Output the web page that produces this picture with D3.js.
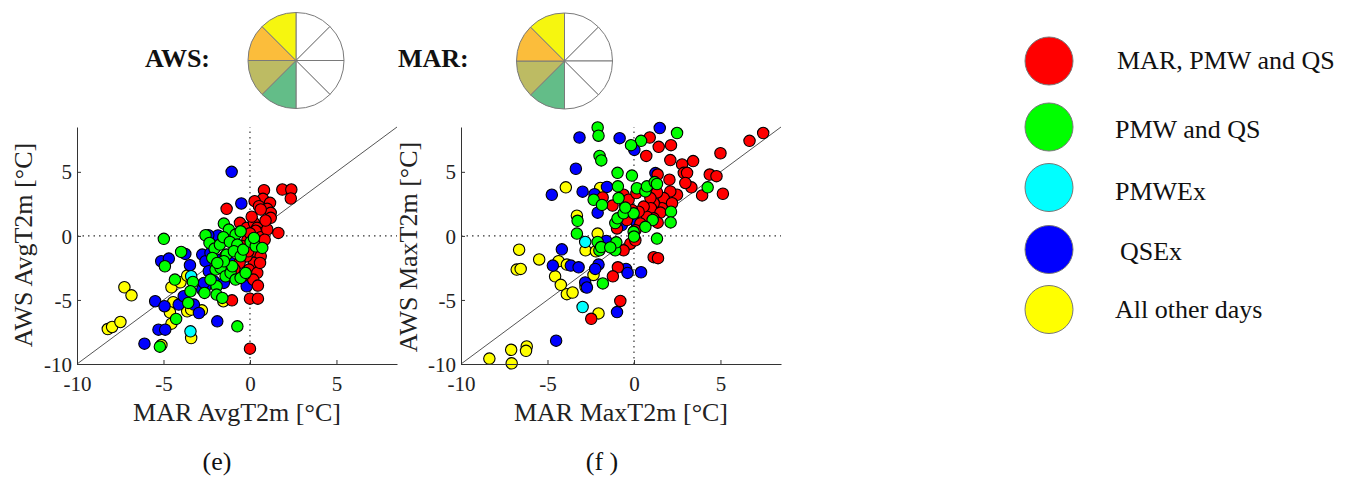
<!DOCTYPE html>
<html><head><meta charset="utf-8">
<script src="https://cdn.jsdelivr.net/npm/d3@7"></script>
<style>body{margin:0;background:#fff}svg{display:block}</style>
</head><body><svg id="c" width="1352" height="482"></svg>
<script>
// ---------- data ----------
const categories = ["MAR, PMW and QS", "PMW and QS", "PMWEx", "QSEx", "All other days"];
const catColors = ["#ff0000", "#00ff00", "#00ffff", "#0000ff", "#ffff00"];
const axisTicks = [-10, -5, 0, 5];
const axisDomain = [-10, 8.5];
const pieSlices = [1, 1, 1, 1, 1, 1, 1, 1];
const pieColors = ["#ffffff", "#ffffff", "#ffffff", "#ffffff", "#63bd88", "#bdbb63", "#fbbd3b", "#f6f60f"];
const pieNames = ["AWS:", "MAR:"];
const panelLabels = ["(e)", "(f )"];
const xLabels = ["MAR AvgT2m [°C]", "MAR MaxT2m [°C]"];
const yLabels = ["AWS AvgT2m [°C]", "AWS MaxT2m [°C]"];

// panel (e): AvgT2m  [MAR, AWS]
const avgRed = [[0.81,3.57],[1.87,3.62],[2.39,3.62],[2.36,2.92],[0.75,2.89],[1.16,2.58],[0.27,2.71],[0.52,2.32],[1.0,2.11],[1.2,1.8],[1.2,1.41],[0.62,2.06],[-1.35,2.11],[1.64,0.23],[-0.58,1.02],[-0.19,0.63],[0.23,1.02],[0.42,0.63],[0.62,0.23],[0.23,-0.16],[-0.15,-0.34],[0.04,-0.81],[0.33,-1.2],[0.62,-1.59],[0.23,-2.11],[-0.06,-2.63],[0.42,-2.89],[0.58,-2.11],[0.19,-3.41],[0.46,-3.88],[0,-4.9],[0.46,-4.9],[-1.04,-5.03],[0,-8.8],[0.33,0.4],[0.62,-0.1],[1.0,0.5],[0.85,-0.3],[0.0,0.2],[-0.4,-0.8],[-0.2,-1.6],[-0.6,-2.1],[-0.3,-3.0],[-0.1,-1.2],[0.1,1.5],[0.9,1.2],[-1.4,-1.5],[-0.9,-2.6]];
const avgGreen = [[-4.98,-0.23],[-4.92,-2.37],[-3.98,-1.25],[-4.34,-3.41],[-3.3,-3.59],[-3.44,-4.32],[-3.57,-5.23],[-4.27,-6.48],[-5.21,-8.65],[-0.73,-7.06],[-1.51,0.96],[-1.22,0.49],[-0.83,0.1],[-0.54,0.36],[-2.57,0.05],[-2.34,-0.55],[-2.05,-0.99],[-2.18,-1.72],[-1.74,-0.68],[-1.54,-0.1],[-1.16,-0.47],[-0.73,-0.68],[-1.35,-1.46],[-0.93,-1.2],[-0.54,-1.59],[-0.39,-1.07],[0.04,-0.47],[0.33,-0.81],[0.71,-0.94],[0.23,-0.16],[-1.99,-2.63],[-1.7,-2.5],[-1.41,-3.15],[-1.12,-2.89],[-0.83,-3.41],[-0.54,-3.28],[-0.25,-2.89],[-1.93,-3.93],[-1.93,-4.58],[-1.6,-4.84],[-2.28,-3.41],[-1.02,-2.37],[-1.51,-1.98],[-1.89,-2.11],[-2.63,-4.45]];
const avgCyan = [[-3.4,-3.15],[-3.44,-7.45]];
const avgBlue = [[-1.06,5.0],[-0.5,2.53],[-1.85,0.03],[-2.41,0.05],[-3.74,-1.41],[-5.13,-1.98],[-4.69,-1.77],[-3.47,-2.29],[-2.76,-1.46],[-2.57,-1.98],[-2.28,-1.33],[-2.38,-2.76],[-1.7,-1.85],[-1.12,-2.11],[-2.09,-3.54],[-2.57,-3.93],[-2.76,-4.19],[-1.51,-3.67],[-5.48,-5.1],[-4.94,-5.49],[-4.12,-5.36],[-3.83,-4.71],[-3.24,-5.36],[-2.95,-6.02],[-5.29,-7.32],[-4.9,-7.32],[-6.1,-8.41],[-1.89,-6.67],[-0.19,-3.93],[-2.66,-3.67]];
const avgYellow = [[-8.22,-7.27],[-7.97,-7.11],[-7.49,-6.72],[-7.26,-4.01],[-6.85,-4.64],[-4.54,-4.01],[-4.02,-3.62],[-5.12,-8.52],[-4.54,-6.85],[-4.44,-5.18],[-3.63,-5.89],[-3.4,-5.76],[-3.4,-7.97],[-2.78,-5.81],[-1.54,-5.1],[-4.63,-5.96],[-3.63,-3.1]];

// panel (f): MaxT2m  [MAR, AWS]
const maxRed = [[0.91,7.68],[1.43,6.95],[2.14,7.08],[0.71,6.24],[2.1,5.92],[2.78,5.58],[3.42,5.84],[2.88,4.92],[3.07,4.92],[5.0,6.45],[6.68,7.42],[7.47,8.03],[4.38,4.79],[4.77,4.66],[3.94,3.16],[5.14,3.29],[3.32,3.79],[2.97,4.13],[2.05,4.39],[1.37,4.79],[2.49,3.21],[2.1,3.47],[1.72,2.95],[2.2,2.55],[1.62,2.16],[1.14,2.55],[1.33,3.39],[0.95,2.95],[0.98,2.16],[1.53,1.82],[1.14,1.37],[1.37,1.03],[0.75,1.5],[0.37,0.97],[0.08,0.45],[-0.21,-0.61],[0.08,-0.34],[-0.6,-1.13],[1.14,-1.66],[1.39,-1.74],[0.56,2.29],[0.27,1.89],[-0.12,2.03],[-0.41,1.24],[-0.6,3.21],[-0.31,2.82],[0.14,3.34],[-0.93,-2.45],[-1.22,-3.16],[-0.79,-5.08],[-2.47,-6.47],[-1.81,3.0],[-1.24,2.37],[-0.98,0.58]];
const maxGreen = [[-2.1,8.47],[-2.05,7.82],[-1.99,6.24],[-1.89,5.89],[2.49,8.03],[0.41,7.42],[-0.17,7.08],[-0.95,4.92],[-0.12,4.71],[4.26,3.79],[-2.33,2.82],[-1.85,2.42],[-3.26,1.18],[-3.3,0.18],[-2.1,-0.47],[-2.0,-1.13],[-1.9,-0.87],[-1.8,-3.71],[-1.08,1.0],[-0.95,1.37],[-0.6,1.76],[-0.02,1.76],[-0.5,2.21],[-0.93,3.87],[-0.89,2.95],[0.17,3.72],[0.66,3.47],[0.75,3.87],[1.2,4.2],[1.33,4.05],[2.14,1.89],[2.12,1.05],[1.33,-0.21],[1.08,1.24],[0.66,0.71],[-0.02,0.32],[-1.08,-1.13],[-1.02,-0.5],[0.0,-0.05],[-1.37,-0.9]];
const maxCyan = [[-2.82,-0.47],[-2.97,-5.55]];
const maxBlue = [[-3.15,7.68],[-0.83,7.63],[1.49,8.42],[0.02,6.71],[-3.36,5.24],[-2.97,3.45],[-4.75,3.21],[-4.17,-1.05],[-4.69,-2.32],[-3.65,-2.32],[-3.2,-2.45],[-2.82,-3.63],[-2.72,-4.03],[-2.05,-2.24],[-2.24,-2.58],[-0.98,-5.95],[-4.5,-8.18],[-0.46,-2.58],[-0.37,-2.89],[0.41,-2.84],[-2.1,1.81],[-1.56,3.82],[-2.28,3.26],[-0.5,2.42],[0.17,0.97],[-0.7,0.85],[-1.6,-0.4],[1.24,4.9]];
const maxYellow = [[-8.36,-9.58],[-7.1,-8.89],[-7.07,-9.95],[-6.2,-8.63],[-6.24,-8.97],[-6.64,-1.08],[-6.78,-2.63],[-6.55,-2.58],[-5.48,-1.84],[-4.36,-1.97],[-3.88,-2.24],[-4.56,-3.16],[-4.23,-3.82],[-3.88,-4.55],[-3.55,-4.42],[-3.94,3.79],[-3.3,1.58],[-2.8,-1.13],[-2.8,-3.99],[-2.34,-3.05],[-2.05,-6.05],[-2.2,-1.2],[-2.1,0.18],[-1.95,3.74]];

// ---------- drawing ----------
const svg = d3.select("#c");
const serif = "'Liberation Serif','Times New Roman',serif";

const panels = [
  {x0: 77, sets: [avgYellow, avgBlue, avgCyan, avgRed, avgGreen]},
  {x0: 461, sets: [maxYellow, maxBlue, maxCyan, maxRed, maxGreen]}
];
const setColor = [catColors[4], catColors[3], catColors[2], catColors[0], catColors[1]];
const fmt = d => String(d);

panels.forEach((p, i) => {
  const x = d3.scaleLinear().domain(axisDomain).range([p.x0, p.x0 + 320]);
  const y = d3.scaleLinear().domain(axisDomain).range([364, 127]);
  const g = svg.append("g");

  // dotted zero lines
  g.append("line").attr("x1", x(-10)).attr("x2", x(8.5)).attr("y1", y(0)).attr("y2", y(0))
    .attr("stroke", "#333").attr("stroke-width", 1.2).attr("stroke-dasharray", "1.5,4");
  g.append("line").attr("x1", x(0)).attr("x2", x(0)).attr("y1", y(-10)).attr("y2", y(8.5))
    .attr("stroke", "#333").attr("stroke-width", 1.2).attr("stroke-dasharray", "1.5,4");
  // 1:1 line
  g.append("line").attr("x1", x(-10)).attr("y1", y(-10)).attr("x2", x(8.5)).attr("y2", y(8.5))
    .attr("stroke", "#555").attr("stroke-width", 1);

  // points
  p.sets.forEach((s, k) => {
    g.append("g").selectAll("circle").data(s).join("circle")
      .attr("cx", d => x(d[0])).attr("cy", d => y(d[1])).attr("r", 5.7)
      .attr("fill", setColor[k]).attr("stroke", "#000").attr("stroke-width", 1.1);
  });

  // axes
  const ax = g.append("g").attr("transform", `translate(0,${y(-10)})`)
    .call(d3.axisBottom(x).tickValues(axisTicks).tickFormat(fmt).tickSizeInner(-4).tickSizeOuter(0).tickPadding(12));
  const ay = g.append("g").attr("transform", `translate(${x(-10)},0)`)
    .call(d3.axisLeft(y).tickValues(axisTicks).tickFormat(fmt).tickSizeInner(-4).tickSizeOuter(0).tickPadding(5));
  [ax, ay].forEach(a => {
    a.select(".domain").attr("stroke", "#333");
    a.selectAll(".tick line").attr("stroke", "#333");
    a.selectAll("text").attr("font-family", serif).attr("font-size", 21).attr("fill", "#222");
  });
  ax.selectAll("text").attr("dy", "0.71em");
  ay.selectAll("text").attr("dy", "0.34em");

  // axis labels
  g.append("text").attr("x", (x(-10) + x(8.5)) / 2).attr("y", 421).attr("text-anchor", "middle")
    .attr("font-family", serif).attr("font-size", 26).attr("fill", "#222").text(xLabels[i]);
  g.append("text").attr("transform", `translate(${i === 0 ? 32 : 417},${i === 0 ? 245 : 247}) rotate(-90)`)
    .attr("text-anchor", "middle").attr("font-family", serif).attr("font-size", 26).attr("fill", "#222").text(yLabels[i]);
  g.append("text").attr("x", i === 0 ? 217 : 602).attr("y", 470).attr("text-anchor", "middle")
    .attr("font-family", serif).attr("font-size", 26).attr("fill", "#111").text(panelLabels[i]);
});

// pies
const pieCenters = [[296, 60.5], [564.5, 61]];
const pie = d3.pie().sort(null)(pieSlices);
const arc = d3.arc().innerRadius(0).outerRadius(48);
pieCenters.forEach((c, i) => {
  const g = svg.append("g").attr("transform", `translate(${c[0]},${c[1]})`);
  g.selectAll("path").data(pie).join("path").attr("d", arc)
    .attr("fill", (d, j) => pieColors[j]).attr("stroke", "#7a7a7a").attr("stroke-width", 1);
  svg.append("text").attr("x", i === 0 ? 145 : 398).attr("y", 67)
    .attr("font-family", serif).attr("font-weight", "bold").attr("font-size", 26).attr("fill", "#111").text(pieNames[i]);
});

// legend
const legY = [61, 127, 187.5, 249.5, 309.5];
const legTx = [1117, 1115, 1115, 1120, 1115];
const legTy = [69, 138, 200, 260, 318];
const lg = svg.append("g");
categories.forEach((c, i) => {
  lg.append("circle").attr("cx", 1049).attr("cy", legY[i]).attr("r", 24)
    .attr("fill", catColors[i]).attr("stroke", "#777").attr("stroke-width", 1);
  lg.append("text").attr("x", legTx[i]).attr("y", legTy[i]).attr("font-family", serif)
    .attr("font-size", 26).attr("fill", "#111").text(c);
});
</script>
</body></html>
